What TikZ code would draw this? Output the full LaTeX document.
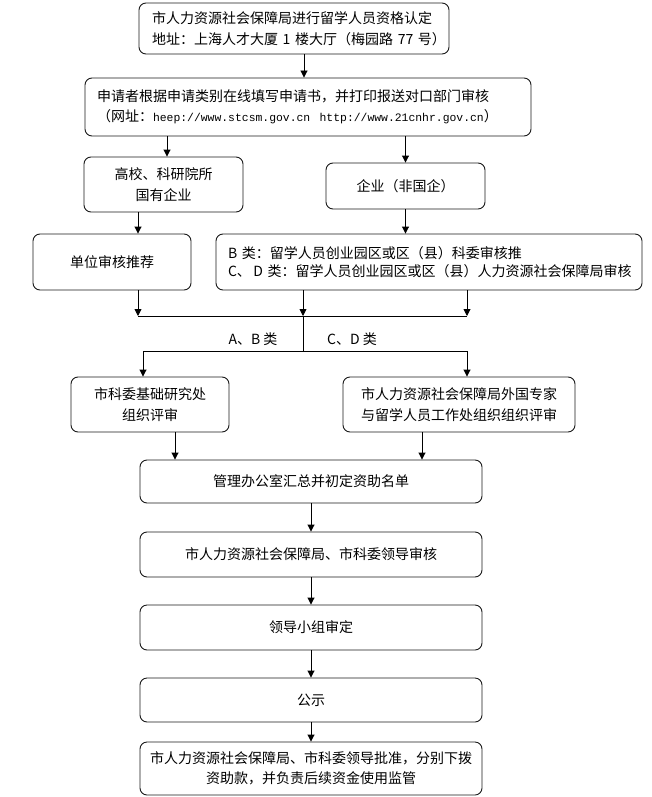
\documentclass[tikz,border=0pt]{standalone}
\usepackage{fontspec}
\setmainfont{Noto Sans CJK SC}
\setmonofont{Liberation Mono}
\usetikzlibrary{arrows.meta, positioning}

\begin{document}
\begin{tikzpicture}[
    x=1pt, y=-1pt,
    font=\fontsize{14}{20.5}\selectfont,
    block/.style={rectangle, rounded corners=7pt, draw=black!90, line width=0.9pt,
        inner sep=0pt, align=center},
    lblock/.style={block, align=left},
    arrow/.style={-{Triangle[length=7pt, width=7pt]}, line width=0.9pt},
    link/.style={line width=0.9pt}]

    \useasboundingbox (0,0) rectangle (652,797);

    \node[lblock, text width=284pt, inner xsep=13pt, minimum height=51pt] (apply) at (294,28.5)
        {市人力资源社会保障局进行留学人员资格认定\\地址：上海人才大厦~1~楼大厅（梅园路~77~号）};
    \node[lblock, text width=422pt, inner xsep=12pt, minimum height=58pt] (submit) at (308,107)
        {申请者根据申请类别在线填写申请书，并打印报送对口部门审核\\（网址：{\fontsize{11.4}{20}\ttfamily heep://www.stcsm.gov.cn\ \ http://www.21cnhr.gov.cn}）};
    \node[block, minimum width=159pt, minimum height=55pt] (univ) at (163.5,184.5) {高校、科研院所\\国有企业};
    \node[block, minimum width=159pt, minimum height=46pt] (firm) at (405.5,186) {企业（非国企）};
    \node[block, minimum width=158pt, minimum height=56pt] (unitrec) at (112,262) {单位审核推荐};
    \node[lblock, text width=402pt, inner xsep=12pt, minimum height=56pt,
        font=\fontsize{14}{18.5}\selectfont] (districtrec) at (429,262)
        {B 类：留学人员创业园区或区（县）科委审核推\\C、\,D 类：留学人员创业园区或区（县）人力资源社会保障局审核};
    \node[block, minimum width=158pt, minimum height=55pt] (kwreview) at (150,404.5) {市科委基础研究处\\组织评审};
    \node[block, minimum width=232pt, minimum height=55pt] (rsreview) at (459,404.5) {市人力资源社会保障局外国专家\\与留学人员工作处组织组织评审};
    \node[block, minimum width=342pt, minimum height=43pt] (summary) at (311,481.5) {管理办公室汇总并初定资助名单};
    \node[block, minimum width=342pt, minimum height=45pt] (leadcheck) at (311,554.5) {市人力资源社会保障局、市科委领导审核};
    \node[block, minimum width=342pt, minimum height=45pt] (groupset) at (311,627.5) {领导小组审定};
    \node[block, minimum width=342pt, minimum height=44pt] (publicity) at (311,700) {公示};
    \node[block, minimum width=342pt, minimum height=53pt] (approve) at (311,768.5) {市人力资源社会保障局、市科委领导批准，分别下拨\\资助款，并负责后续资金使用监管};

    \node (labAB) at (253,339) {A、B 类};
    \node (labCD) at (352,339) {C、D 类};

    \coordinate (colTop) at (304,0);
    \coordinate (colUniv) at (167,0);
    \coordinate (colUnit) at (138,0);
    \coordinate (colKw) at (175,0);
    \coordinate (colRs) at (422,0);
    \coordinate (joinL) at (138,316);
    \coordinate (joinM) at (303,316);
    \coordinate (joinR) at (467,316);
    \coordinate (forkL) at (143,351);
    \coordinate (forkM) at (303,351);
    \coordinate (forkR) at (467,351);

    \draw[arrow] (apply.south -| colTop) -- (submit.north -| colTop);
    \draw[arrow] (submit.south -| colUniv) -- (univ.north -| colUniv);
    \draw[arrow] (submit.south -| firm.north) -- (firm.north);
    \draw[arrow] (univ.south -| colUnit) -- (unitrec.north -| colUnit);
    \draw[arrow] (firm.south) -- (districtrec.north -| firm.south);

    \draw[arrow] (unitrec.south -| joinL) -- (joinL);
    \draw[arrow] (districtrec.south -| joinM) -- (joinM);
    \draw[arrow] (districtrec.south -| joinR) -- (joinR);
    \draw[link] (joinL) -- (joinR);
    \draw[link] (joinM) -- (forkM);
    \draw[arrow] (forkM) -- (forkL) -- (kwreview.north -| forkL);
    \draw[arrow] (forkM) -- (forkR) -- (rsreview.north -| forkR);

    \draw[arrow] (kwreview.south -| colKw) -- (summary.north -| colKw);
    \draw[arrow] (rsreview.south -| colRs) -- (summary.north -| colRs);
    \draw[arrow] (summary) -- (leadcheck);
    \draw[arrow] (leadcheck) -- (groupset);
    \draw[arrow] (groupset) -- (publicity);
    \draw[arrow] (publicity) -- (approve);
\end{tikzpicture}
\end{document}
